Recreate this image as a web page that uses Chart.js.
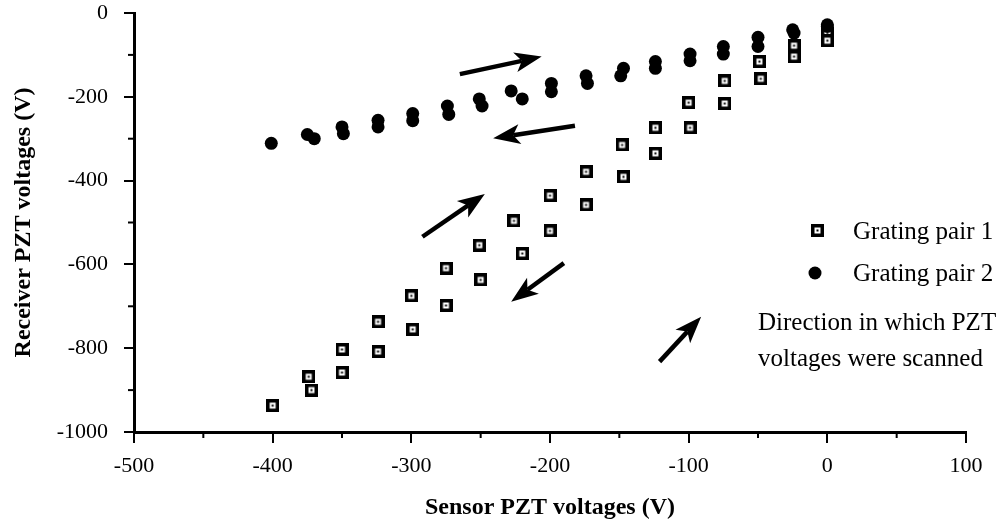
<!DOCTYPE html>
<html>
<head>
<meta charset="utf-8">
<script src="https://cdn.jsdelivr.net/npm/chart.js@4.4.1/dist/chart.umd.min.js"></script>
<style>
  body { margin: 0; background: #fff; }
  #wrap { width: 1002px; height: 523px; }
</style>
</head>
<body>
<div id="wrap"><canvas id="pztChart" width="1002" height="523"></canvas></div>
<script>
// Grating pair 1 (open squares) - sensor vs receiver PZT voltages
const pair1X = [-400, -374, -372, -350, -350, -324, -324, -300, -299, -275, -275, -251, -250, -226, -220, -200, -200, -174, -174, -148, -147, -124, -124, -100, -99, -74, -74, -49, -48, -24, -24, 0, 0];
const pair1Y = [-937, -868, -900, -803, -858, -737, -808, -675, -755, -609, -698, -554, -637, -496, -574, -436, -520, -379, -458, -315, -391, -274, -335, -214, -274, -162, -216, -116, -157, -78, -104, -50, -66];

// Grating pair 2 (filled dots)
const pair2X = [-401, -375, -370, -350, -349, -324, -324, -299, -299, -274, -273, -251, -249, -228, -220, -199, -199, -174, -173, -147, -149, -124, -124, -99, -99, -75, -75, -50, -50, -25, -24, 0, 0];
const pair2Y = [-311, -290, -300, -272, -288, -256, -272, -240, -257, -222, -242, -205, -222, -186, -205, -168, -188, -150, -168, -132, -150, -116, -132, -98, -114, -80, -98, -58, -80, -40, -48, -28, -32];

const seriesLabels = ['Grating pair 1', 'Grating pair 2'];
const noteLines = ['Direction in which PZT', 'voltages were scanned'];

// scan-direction arrows, [fromX, fromY, toX, toY] in data units
const arrows = [
    [-265, -146, -206, -104],
    [-182, -269, -241, -299],
    [-292, -534, -247, -432],
    [-190, -597, -228, -689],
    [-121, -832, -91, -725]
];

const serif = '"Liberation Serif", "Times New Roman", serif';

function toPoints(xs, ys) {
    return xs.map((x, i) => ({ x: x, y: ys[i] }));
}

// square marker: heavy black box, small white inside, black dot in middle
function squareMarker() {
    const c = document.createElement('canvas');
    c.width = 13; c.height = 13;
    const g = c.getContext('2d');
    g.fillStyle = '#000';
    g.fillRect(0, 0, 13, 13);
    g.fillStyle = '#fff';
    g.fillRect(3.5, 3.5, 6, 6);
    g.fillStyle = '#000';
    g.fillRect(5.5, 5.5, 2, 2);
    return c;
}
const sqMark = squareMarker();

function drawArrow(ctx, x1, y1, x2, y2) {
    const ang = Math.atan2(y2 - y1, x2 - x1);
    const headLen = 27, headW = 10;
    const bx = x2 - Math.cos(ang) * headLen * 0.75;
    const by = y2 - Math.sin(ang) * headLen * 0.75;
    ctx.beginPath();
    ctx.moveTo(x1, y1);
    ctx.lineTo(bx, by);
    ctx.lineWidth = 4.5;
    ctx.strokeStyle = '#000';
    ctx.stroke();
    // head with a small notch at the back
    const backX = x2 - Math.cos(ang) * headLen;
    const backY = y2 - Math.sin(ang) * headLen;
    ctx.beginPath();
    ctx.moveTo(x2, y2);
    ctx.lineTo(backX + Math.sin(ang) * headW, backY - Math.cos(ang) * headW);
    ctx.lineTo(bx, by);
    ctx.lineTo(backX - Math.sin(ang) * headW, backY + Math.cos(ang) * headW);
    ctx.closePath();
    ctx.fillStyle = '#000';
    ctx.fill();
}

const extras = {
    id: 'extras',
    afterDraw(chart) {
        const ctx = chart.ctx;
        const xs = chart.scales.x, ys = chart.scales.y;
        ctx.save();
        // minor ticks
        ctx.strokeStyle = '#000';
        ctx.lineWidth = 2;
        for (let v = -900; v < 0; v += 200) {
            const py = ys.getPixelForValue(v);
            ctx.beginPath();
            ctx.moveTo(xs.left - 6, py);
            ctx.lineTo(xs.left, py);
            ctx.stroke();
        }
        for (let v = -450; v < 100; v += 100) {
            const px = xs.getPixelForValue(v);
            ctx.beginPath();
            ctx.moveTo(px, ys.bottom);
            ctx.lineTo(px, ys.bottom + 6);
            ctx.stroke();
        }
        // arrows
        arrows.forEach(a => {
            drawArrow(ctx, xs.getPixelForValue(a[0]), ys.getPixelForValue(a[1]),
                xs.getPixelForValue(a[2]), ys.getPixelForValue(a[3]));
        });
        // legend
        ctx.font = '25px ' + serif;
        ctx.fillStyle = '#000';
        ctx.textBaseline = 'alphabetic';
        ctx.drawImage(sqMark, 811, 224);
        ctx.fillText(seriesLabels[0], 853, 239);
        ctx.beginPath();
        ctx.arc(815, 273, 6.5, 0, Math.PI * 2);
        ctx.fill();
        ctx.fillText(seriesLabels[1], 853, 281);
        ctx.fillText(noteLines[0], 758, 330);
        ctx.fillText(noteLines[1], 758, 366);
        ctx.restore();
    }
};

const ctx = document.getElementById('pztChart').getContext('2d');
new Chart(ctx, {
    type: 'scatter',
    data: {
        datasets: [{
            label: seriesLabels[0],
            data: toPoints(pair1X, pair1Y),
            pointStyle: sqMark,
            pointRadius: 7,
            order: 1
        }, {
            label: seriesLabels[1],
            data: toPoints(pair2X, pair2Y),
            pointStyle: 'circle',
            pointRadius: 6.5,
            backgroundColor: '#000',
            borderColor: '#000',
            borderWidth: 0,
            order: 0
        }]
    },
    options: {
        responsive: false,
        animation: false,
        layout: { padding: { top: 13, right: 36, left: 0, bottom: 0 } },
        plugins: {
            legend: { display: false },
            tooltip: { enabled: false }
        },
        scales: {
            x: {
                type: 'linear',
                min: -500,
                max: 100,
                afterFit: s => { s.height = 91; s.paddingLeft = 0; s.paddingRight = 0; },
                ticks: {
                    stepSize: 100,
                    padding: 10,
                    color: '#000',
                    font: { family: serif, size: 22 },
                    callback: v => String(v)
                },
                grid: { drawOnChartArea: false, tickLength: 11, lineWidth: 2, color: '#000' },
                border: { width: 3, color: '#000' },
                title: {
                    display: true,
                    text: 'Sensor PZT voltages (V)',
                    color: '#000',
                    font: { family: serif, size: 24, weight: 'bold' },
                    padding: { top: 0, bottom: 1 }
                }
            },
            y: {
                type: 'linear',
                min: -1000,
                max: 0,
                afterFit: s => { s.width = 134; s.paddingTop = 0; s.paddingBottom = 0; },
                ticks: {
                    stepSize: 200,
                    padding: 16,
                    color: '#000',
                    font: { family: serif, size: 22 },
                    callback: v => String(v)
                },
                grid: { drawOnChartArea: false, tickLength: 10, lineWidth: 2, color: '#000' },
                border: { width: 3, color: '#000' },
                title: {
                    display: true,
                    text: 'Receiver PZT voltages (V)',
                    color: '#000',
                    font: { family: serif, size: 24, weight: 'bold' },
                    padding: { top: 9, bottom: 0 }
                }
            }
        }
    },
    plugins: [extras]
});
</script>
</body>
</html>
